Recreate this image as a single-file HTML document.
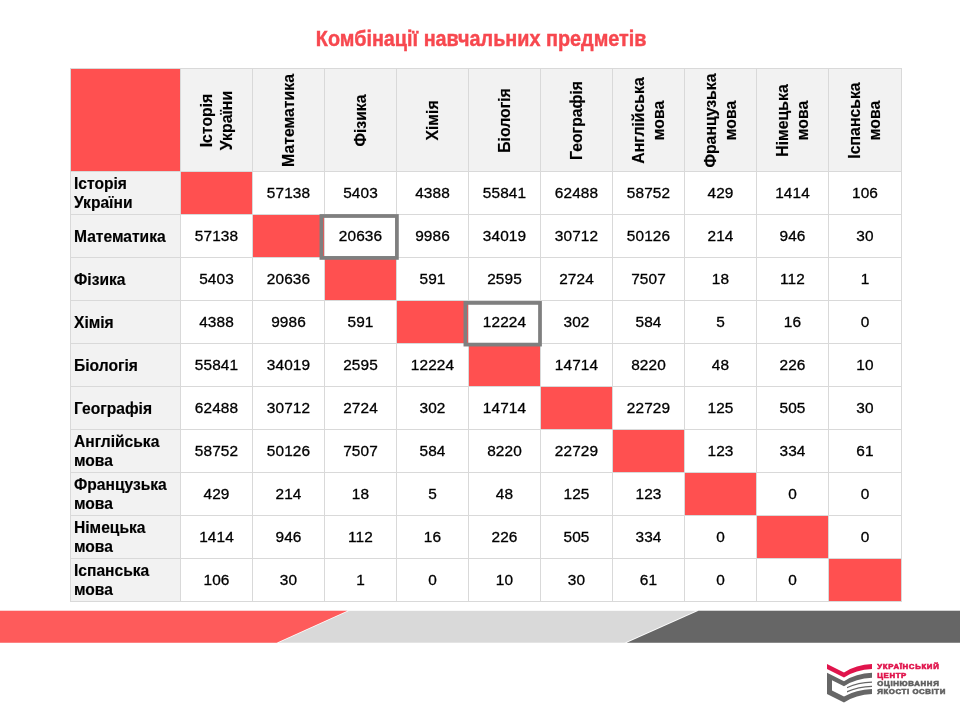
<!DOCTYPE html>
<html lang="uk">
<head>
<meta charset="utf-8">
<title>Комбінації навчальних предметів</title>
<style>
html,body{margin:0;padding:0;background:#fff;}
body{width:960px;height:720px;overflow:hidden;position:relative;font-family:"Liberation Sans",Arial,sans-serif;color:#000;}
.title{position:absolute;left:1.1px;top:26px;width:960px;text-align:center;font-weight:bold;font-size:22.2px;line-height:26px;color:#f7484f;white-space:nowrap;}
.title span{display:inline-block;-webkit-text-stroke:0.45px #f7484f;transform:scaleX(.893);transform-origin:50% 50%;}
.grid{position:absolute;left:70px;top:68px;width:832px;height:534px;background:#d9d9d9;}
.c{position:absolute;box-sizing:border-box;background:#fff;font-size:15.4px;letter-spacing:.1px;line-height:19.2px;padding-bottom:1px;display:flex;align-items:center;justify-content:center;white-space:nowrap;-webkit-text-stroke:0.3px #000;}
.r{background:#ff5050;}
.h{background:#f2f2f2;font-weight:bold;font-size:15.6px;letter-spacing:0;padding-top:2px;padding-bottom:0;-webkit-text-stroke:0.15px #000;}
.rl{justify-content:flex-start;padding-left:3px;}
.two{padding-top:0;padding-bottom:0;}
.v{position:absolute;left:50%;top:50%;width:102px;height:71px;margin-left:-52px;margin-top:-35.5px;transform:rotate(-90deg);font-size:15.8px;display:flex;align-items:center;justify-content:center;text-align:center;}
.band{position:absolute;left:0;top:610px;width:960px;height:33px;}
.logo{position:absolute;left:820px;top:655px;}
</style>
</head>
<body>
<div class="title"><span>Комбінації навчальних предметів</span></div>
<div class="grid">
<div class="c r" style="left:1px;top:1px;width:109px;height:102px"></div>
<div class="c h" style="left:111px;top:1px;width:71px;height:102px"><div class="v"><div>Історія<br>України</div></div></div>
<div class="c h" style="left:183px;top:1px;width:71px;height:102px"><div class="v"><div>Математика</div></div></div>
<div class="c h" style="left:255px;top:1px;width:71px;height:102px"><div class="v"><div>Фізика</div></div></div>
<div class="c h" style="left:327px;top:1px;width:71px;height:102px"><div class="v"><div>Хімія</div></div></div>
<div class="c h" style="left:399px;top:1px;width:71px;height:102px"><div class="v"><div>Біологія</div></div></div>
<div class="c h" style="left:471px;top:1px;width:71px;height:102px"><div class="v"><div>Географія</div></div></div>
<div class="c h" style="left:543px;top:1px;width:71px;height:102px"><div class="v"><div>Англійська<br>мова</div></div></div>
<div class="c h" style="left:615px;top:1px;width:71px;height:102px"><div class="v"><div>Французька<br>мова</div></div></div>
<div class="c h" style="left:687px;top:1px;width:71px;height:102px"><div class="v"><div>Німецька<br>мова</div></div></div>
<div class="c h" style="left:759px;top:1px;width:72px;height:102px"><div class="v"><div>Іспанська<br>мова</div></div></div>
<div class="c h rl two" style="left:1px;top:104px;width:109px;height:42px"><div>Історія<br>України</div></div>
<div class="c r" style="left:111px;top:104px;width:71px;height:42px"></div>
<div class="c " style="left:183px;top:104px;width:71px;height:42px">57138</div>
<div class="c " style="left:255px;top:104px;width:71px;height:42px">5403</div>
<div class="c " style="left:327px;top:104px;width:71px;height:42px">4388</div>
<div class="c " style="left:399px;top:104px;width:71px;height:42px">55841</div>
<div class="c " style="left:471px;top:104px;width:71px;height:42px">62488</div>
<div class="c " style="left:543px;top:104px;width:71px;height:42px">58752</div>
<div class="c " style="left:615px;top:104px;width:71px;height:42px">429</div>
<div class="c " style="left:687px;top:104px;width:71px;height:42px">1414</div>
<div class="c " style="left:759px;top:104px;width:72px;height:42px">106</div>
<div class="c h rl" style="left:1px;top:147px;width:109px;height:42px"><div>Математика</div></div>
<div class="c " style="left:111px;top:147px;width:71px;height:42px">57138</div>
<div class="c r" style="left:183px;top:147px;width:71px;height:42px"></div>
<div class="c " style="left:255px;top:147px;width:71px;height:42px">20636</div>
<div class="c " style="left:327px;top:147px;width:71px;height:42px">9986</div>
<div class="c " style="left:399px;top:147px;width:71px;height:42px">34019</div>
<div class="c " style="left:471px;top:147px;width:71px;height:42px">30712</div>
<div class="c " style="left:543px;top:147px;width:71px;height:42px">50126</div>
<div class="c " style="left:615px;top:147px;width:71px;height:42px">214</div>
<div class="c " style="left:687px;top:147px;width:71px;height:42px">946</div>
<div class="c " style="left:759px;top:147px;width:72px;height:42px">30</div>
<div class="c h rl" style="left:1px;top:190px;width:109px;height:42px"><div>Фізика</div></div>
<div class="c " style="left:111px;top:190px;width:71px;height:42px">5403</div>
<div class="c " style="left:183px;top:190px;width:71px;height:42px">20636</div>
<div class="c r" style="left:255px;top:190px;width:71px;height:42px"></div>
<div class="c " style="left:327px;top:190px;width:71px;height:42px">591</div>
<div class="c " style="left:399px;top:190px;width:71px;height:42px">2595</div>
<div class="c " style="left:471px;top:190px;width:71px;height:42px">2724</div>
<div class="c " style="left:543px;top:190px;width:71px;height:42px">7507</div>
<div class="c " style="left:615px;top:190px;width:71px;height:42px">18</div>
<div class="c " style="left:687px;top:190px;width:71px;height:42px">112</div>
<div class="c " style="left:759px;top:190px;width:72px;height:42px">1</div>
<div class="c h rl" style="left:1px;top:233px;width:109px;height:42px"><div>Хімія</div></div>
<div class="c " style="left:111px;top:233px;width:71px;height:42px">4388</div>
<div class="c " style="left:183px;top:233px;width:71px;height:42px">9986</div>
<div class="c " style="left:255px;top:233px;width:71px;height:42px">591</div>
<div class="c r" style="left:327px;top:233px;width:71px;height:42px"></div>
<div class="c " style="left:399px;top:233px;width:71px;height:42px">12224</div>
<div class="c " style="left:471px;top:233px;width:71px;height:42px">302</div>
<div class="c " style="left:543px;top:233px;width:71px;height:42px">584</div>
<div class="c " style="left:615px;top:233px;width:71px;height:42px">5</div>
<div class="c " style="left:687px;top:233px;width:71px;height:42px">16</div>
<div class="c " style="left:759px;top:233px;width:72px;height:42px">0</div>
<div class="c h rl" style="left:1px;top:276px;width:109px;height:42px"><div>Біологія</div></div>
<div class="c " style="left:111px;top:276px;width:71px;height:42px">55841</div>
<div class="c " style="left:183px;top:276px;width:71px;height:42px">34019</div>
<div class="c " style="left:255px;top:276px;width:71px;height:42px">2595</div>
<div class="c " style="left:327px;top:276px;width:71px;height:42px">12224</div>
<div class="c r" style="left:399px;top:276px;width:71px;height:42px"></div>
<div class="c " style="left:471px;top:276px;width:71px;height:42px">14714</div>
<div class="c " style="left:543px;top:276px;width:71px;height:42px">8220</div>
<div class="c " style="left:615px;top:276px;width:71px;height:42px">48</div>
<div class="c " style="left:687px;top:276px;width:71px;height:42px">226</div>
<div class="c " style="left:759px;top:276px;width:72px;height:42px">10</div>
<div class="c h rl" style="left:1px;top:319px;width:109px;height:42px"><div>Географія</div></div>
<div class="c " style="left:111px;top:319px;width:71px;height:42px">62488</div>
<div class="c " style="left:183px;top:319px;width:71px;height:42px">30712</div>
<div class="c " style="left:255px;top:319px;width:71px;height:42px">2724</div>
<div class="c " style="left:327px;top:319px;width:71px;height:42px">302</div>
<div class="c " style="left:399px;top:319px;width:71px;height:42px">14714</div>
<div class="c r" style="left:471px;top:319px;width:71px;height:42px"></div>
<div class="c " style="left:543px;top:319px;width:71px;height:42px">22729</div>
<div class="c " style="left:615px;top:319px;width:71px;height:42px">125</div>
<div class="c " style="left:687px;top:319px;width:71px;height:42px">505</div>
<div class="c " style="left:759px;top:319px;width:72px;height:42px">30</div>
<div class="c h rl two" style="left:1px;top:362px;width:109px;height:42px"><div>Англійська<br>мова</div></div>
<div class="c " style="left:111px;top:362px;width:71px;height:42px">58752</div>
<div class="c " style="left:183px;top:362px;width:71px;height:42px">50126</div>
<div class="c " style="left:255px;top:362px;width:71px;height:42px">7507</div>
<div class="c " style="left:327px;top:362px;width:71px;height:42px">584</div>
<div class="c " style="left:399px;top:362px;width:71px;height:42px">8220</div>
<div class="c " style="left:471px;top:362px;width:71px;height:42px">22729</div>
<div class="c r" style="left:543px;top:362px;width:71px;height:42px"></div>
<div class="c " style="left:615px;top:362px;width:71px;height:42px">123</div>
<div class="c " style="left:687px;top:362px;width:71px;height:42px">334</div>
<div class="c " style="left:759px;top:362px;width:72px;height:42px">61</div>
<div class="c h rl two" style="left:1px;top:405px;width:109px;height:42px"><div>Французька<br>мова</div></div>
<div class="c " style="left:111px;top:405px;width:71px;height:42px">429</div>
<div class="c " style="left:183px;top:405px;width:71px;height:42px">214</div>
<div class="c " style="left:255px;top:405px;width:71px;height:42px">18</div>
<div class="c " style="left:327px;top:405px;width:71px;height:42px">5</div>
<div class="c " style="left:399px;top:405px;width:71px;height:42px">48</div>
<div class="c " style="left:471px;top:405px;width:71px;height:42px">125</div>
<div class="c " style="left:543px;top:405px;width:71px;height:42px">123</div>
<div class="c r" style="left:615px;top:405px;width:71px;height:42px"></div>
<div class="c " style="left:687px;top:405px;width:71px;height:42px">0</div>
<div class="c " style="left:759px;top:405px;width:72px;height:42px">0</div>
<div class="c h rl two" style="left:1px;top:448px;width:109px;height:42px"><div>Німецька<br>мова</div></div>
<div class="c " style="left:111px;top:448px;width:71px;height:42px">1414</div>
<div class="c " style="left:183px;top:448px;width:71px;height:42px">946</div>
<div class="c " style="left:255px;top:448px;width:71px;height:42px">112</div>
<div class="c " style="left:327px;top:448px;width:71px;height:42px">16</div>
<div class="c " style="left:399px;top:448px;width:71px;height:42px">226</div>
<div class="c " style="left:471px;top:448px;width:71px;height:42px">505</div>
<div class="c " style="left:543px;top:448px;width:71px;height:42px">334</div>
<div class="c " style="left:615px;top:448px;width:71px;height:42px">0</div>
<div class="c r" style="left:687px;top:448px;width:71px;height:42px"></div>
<div class="c " style="left:759px;top:448px;width:72px;height:42px">0</div>
<div class="c h rl two" style="left:1px;top:491px;width:109px;height:42px"><div>Іспанська<br>мова</div></div>
<div class="c " style="left:111px;top:491px;width:71px;height:42px">106</div>
<div class="c " style="left:183px;top:491px;width:71px;height:42px">30</div>
<div class="c " style="left:255px;top:491px;width:71px;height:42px">1</div>
<div class="c " style="left:327px;top:491px;width:71px;height:42px">0</div>
<div class="c " style="left:399px;top:491px;width:71px;height:42px">10</div>
<div class="c " style="left:471px;top:491px;width:71px;height:42px">30</div>
<div class="c " style="left:543px;top:491px;width:71px;height:42px">61</div>
<div class="c " style="left:615px;top:491px;width:71px;height:42px">0</div>
<div class="c " style="left:687px;top:491px;width:71px;height:42px">0</div>
<div class="c r" style="left:759px;top:491px;width:72px;height:42px"></div>
</div>
<svg class="boxes" width="960" height="720" viewBox="0 0 960 720" style="position:absolute;left:0;top:0">
<rect x="321.4" y="216" width="75.5" height="41.9" fill="none" stroke="#7f7f7f" stroke-width="3.75"/>
<rect x="465.4" y="302.9" width="74.6" height="41.7" fill="none" stroke="#7f7f7f" stroke-width="3.75"/>
</svg>
<svg class="band" width="960" height="33" viewBox="0 0 960 33">
<rect x="0" y="0.8" width="960" height="31.9" fill="#d9d9d9"/>
<polygon points="0,0.8 349.3,0.8 278.5,32.7 0,32.7" fill="#fff"/>
<polygon points="0,0.8 347.5,0.8 276.7,32.7 0,32.7" fill="#fe5b5b"/>
<polygon points="696.3,0.8 960,0.8 960,32.7 624.5,32.7" fill="#fff"/>
<polygon points="698.5,0.8 960,0.8 960,32.7 626.7,32.7" fill="#666"/>
</svg>
<svg class="logo" width="135" height="55" viewBox="820 655 135 55" font-family="Liberation Sans, Arial, sans-serif" font-weight="bold" font-size="7">
<path d="M827,664 L844,672.5 Q856,664.5 872,664 L872,669 Q856,669.5 844,677.5 L827,669 Z" fill="#e0144c"/>
<path d="M827,672.8 L844,681.3 Q856,673.3 872,672.8 L872,677.8 Q856,678.3 844,686.3 L832,680.3 L832,690.5 L844,696.5 Q856,689.5 872,689 L872,694 Q856,694.5 844,702.5 L827,694 Z" fill="#666"/>
<path d="M847,686.9 Q858,681.9 872,681.5 L872,682.8 Q858,683.2 847,688.2 Z" fill="#666"/>
<path d="M847,691.1 Q858,686.1 872,685.7 L872,687 Q858,687.4 847,692.4 Z" fill="#666"/>
<g fill="#e0144c" stroke="#e0144c" stroke-width="0.55">
<text transform="translate(877.3,669.4) scale(1.12,1)" textLength="54.9" lengthAdjust="spacing">УКРАЇНСЬКИЙ</text>
<text transform="translate(877.3,677.6) scale(1.12,1)" textLength="25.9" lengthAdjust="spacing">ЦЕНТР</text>
</g>
<g fill="#606060" stroke="#606060" stroke-width="0.55">
<text transform="translate(877.3,685.9) scale(1.12,1)" textLength="54.9" lengthAdjust="spacing">ОЦІНЮВАННЯ</text>
<text transform="translate(877.3,694.2) scale(1.12,1)" textLength="60.7" lengthAdjust="spacing">ЯКОСТІ ОСВІТИ</text>
</g>
</svg>
</body>
</html>
